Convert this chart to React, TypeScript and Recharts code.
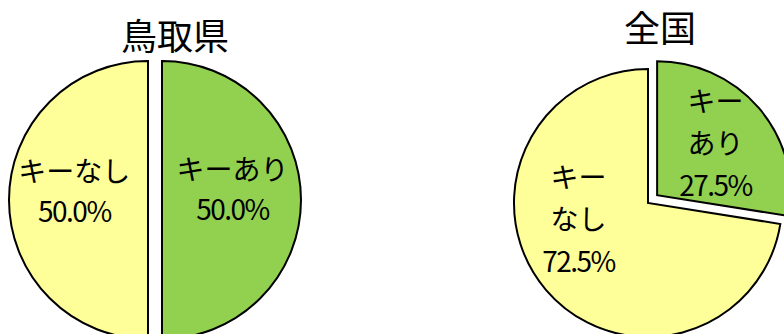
import React from 'react';
import { PieChart, Pie, Cell, Sector } from 'recharts';

// データ
const categories = ['キーあり', 'キーなし'];
const tottoriValues = [50.0, 50.0];
const nationalValues = [27.5, 72.5];
const panelTitles = ['鳥取県', '全国'];

const COLORS = ['#92D050', '#FFFF99'];
const FONT = '"Noto Sans CJK JP", "Noto Sans", sans-serif';
const RAD = Math.PI / 180;

const toRows = (values: number[]) => categories.map((name, i) => ({ name, value: values[i] }));

interface PieLayout {
  cx: number;
  cy: number;
  r: number;
  explode: number[]; // 切り出し量 (px)
  labelAngle: number[]; // ラベル位置の角度
  labelDist: number[]; // 半径に対する割合
  splitName: boolean;
  lineHeight: number;
}

const leftLayout: PieLayout = {
  cx: 155,
  cy: 200,
  r: 139,
  explode: [7, 7],
  labelAngle: [10, 172],
  labelDist: [0.515, 0.535],
  splitName: false,
  lineHeight: 40,
};

const rightLayout: PieLayout = {
  cx: 648,
  cy: 203,
  r: 134,
  explode: [12, 0],
  labelAngle: [42.4, 192.2],
  labelDist: [0.59, 0.53],
  splitName: true,
  lineHeight: 42,
};

const shiftOf = (layout: PieLayout, idx: number, midAngle: number) => {
  const d = layout.explode[idx] ?? 0;
  return { dx: d * Math.cos(-midAngle * RAD), dy: d * Math.sin(-midAngle * RAD) };
};

const makeShape = (layout: PieLayout) => (props: any) => {
  const name = props.payload?.name ?? props.name;
  const idx = categories.indexOf(name);
  const { dx, dy } = shiftOf(layout, idx, props.midAngle);
  return (
    <Sector
      cx={props.cx + dx}
      cy={props.cy + dy}
      innerRadius={props.innerRadius}
      outerRadius={props.outerRadius}
      startAngle={props.startAngle}
      endAngle={props.endAngle}
      fill={props.fill}
      stroke="#000"
      strokeWidth={2}
    />
  );
};

const makeLabel = (layout: PieLayout, values: number[]) => (props: any) => {
  const name = props.payload?.name ?? props.name;
  const idx = categories.indexOf(name);
  const { dx, dy } = shiftOf(layout, idx, props.midAngle);
  const total = values.reduce((a, b) => a + b, 0);
  const pct = ((props.value / total) * 100).toFixed(1) + '%';
  const dist = layout.labelDist[idx] * props.outerRadius;
  const a = layout.labelAngle[idx] * RAD;
  const x = props.cx + dx + dist * Math.cos(a);
  const y = props.cy + dy - dist * Math.sin(a);
  const lines = layout.splitName ? [name.slice(0, 2), name.slice(2), pct] : [name, pct];
  const top = y - ((lines.length - 1) * layout.lineHeight) / 2;
  return (
    <text
      key={`lbl-${idx}`}
      x={x}
      y={top}
      textAnchor="middle"
      dominantBaseline="central"
      fontFamily={FONT}
      fontSize={28}
      fill="#000"
    >
      {lines.map((ln, k) => (
        <tspan key={k} x={x} y={top + k * layout.lineHeight} letterSpacing={ln === pct ? -1.5 : 0}>
          {ln}
        </tspan>
      ))}
    </text>
  );
};

const renderPie = (values: number[], layout: PieLayout, id: string) => (
  <Pie
    key={id}
    data={toRows(values)}
    dataKey="value"
    nameKey="name"
    cx={layout.cx}
    cy={layout.cy}
    outerRadius={layout.r}
    startAngle={90}
    endAngle={-270}
    stroke="#000"
    strokeWidth={2}
    labelLine={false}
    label={makeLabel(layout, values)}
    shape={makeShape(layout)}
    isAnimationActive={false}
  >
    {categories.map((c, i) => (
      <Cell key={c} fill={COLORS[i]} />
    ))}
  </Pie>
);

export default function App() {
  return (
    <div style={{ position: 'absolute', left: 0, top: 0, width: 784, height: 334, background: '#fff' }}>
      <PieChart width={784} height={334} margin={{ top: 0, right: 0, bottom: 0, left: 0 }}>
        {renderPie(tottoriValues, leftLayout, 'tottori')}
        {renderPie(nationalValues, rightLayout, 'national')}
      </PieChart>
      <svg width={784} height={334} style={{ position: 'absolute', left: 0, top: 0, pointerEvents: 'none' }}>
        <text x={175} y={34} textAnchor="middle" dominantBaseline="central" fontFamily={FONT} fontSize={36}>
          {panelTitles[0]}
        </text>
        <text x={660} y={26} textAnchor="middle" dominantBaseline="central" fontFamily={FONT} fontSize={36}>
          {panelTitles[1]}
        </text>
      </svg>
    </div>
  );
}
